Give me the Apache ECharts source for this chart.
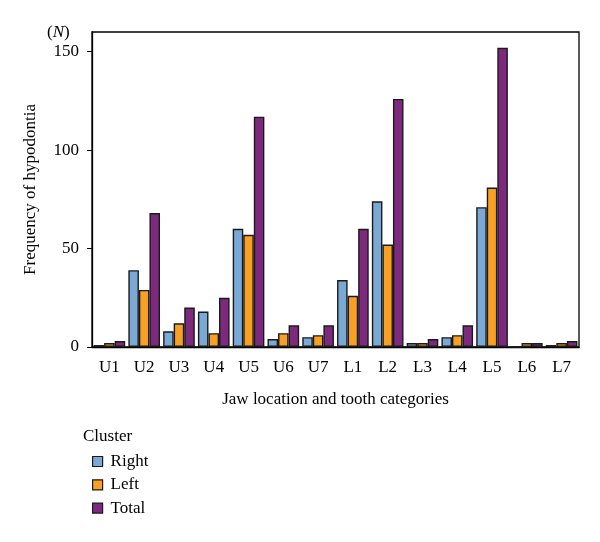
<!DOCTYPE html>
<html><head><meta charset="utf-8">
<script src="https://cdn.jsdelivr.net/npm/echarts@6/dist/echarts.min.js"></script>
<style>html,body{margin:0;padding:0;background:#fff}#c{width:600px;height:542px}</style>
</head><body><div id="c"></div>
<script>
var categories = ['U1','U2','U3','U4','U5','U6','U7','L1','L2','L3','L4','L5','L6','L7'];
var rightVals = [1,39,8,18,60,4,5,34,74,2,5,71,0,1];
var leftVals  = [2,29,12,7,57,7,6,26,52,2,6,81,2,2];
var totalVals = [3,68,20,25,117,11,11,60,126,4,11,152,2,3];
var yTicks = [0,50,100,150];

var F = 'Liberation Serif, DejaVu Serif, serif';
var chart = echarts.init(document.getElementById('c'));
function ser(name, data, color){
  return {name:name, type:'bar', data:data, barGap:'0%', barCategoryGap:'9%',
    itemStyle:{color:color, borderColor:'#1a1a1a', borderWidth:1.4}};
}
chart.setOption({
  animation:false,
  backgroundColor:'#fff',
  grid:{left:92, right:21, top:32, bottom:195, show:true, borderColor:'#000', borderWidth:1.3, backgroundColor:'transparent'},
  xAxis:{type:'category', data:categories,
    name:'Jaw location and tooth categories', nameLocation:'middle', nameGap:44,
    nameTextStyle:{fontFamily:F, fontSize:17, color:'#000'},
    axisLine:{lineStyle:{color:'#000', width:1.3}},
    axisTick:{alignWithLabel:true, length:5, lineStyle:{color:'#000'}},
    axisLabel:{fontFamily:F, fontSize:17, color:'#000', margin:12}},
  yAxis:{type:'value', min:0, max:160, interval:50,
    name:'Frequency of hypodontia', nameLocation:'middle', nameGap:53,
    nameTextStyle:{fontFamily:F, fontSize:17, color:'#000'},
    axisLine:{show:true, lineStyle:{color:'#000', width:1.3}},
    axisTick:{show:true, length:5, lineStyle:{color:'#000'}, customValues: yTicks},
    splitLine:{show:false},
    axisLabel:{fontFamily:F, fontSize:17, color:'#000', margin:13, customValues: yTicks}},
  legend:{orient:'vertical', left:87, top:448, itemWidth:10, itemHeight:10, itemGap:6.3,
    icon:'rect', data:['Right','Left','Total'],
    itemStyle:{borderColor:'#1a1a1a', borderWidth:1.2},
    textStyle:{fontFamily:F, fontSize:17, color:'#000', lineHeight:17, padding:[0,0,0,3]}},
  graphic:[
    {type:'text', left:47, top:24, style:{text:'({i|N})', fontFamily:F, fontSize:17, fill:'#000',
      rich:{i:{fontFamily:F, fontSize:17, fontStyle:'italic', fill:'#000'}}}},
    {type:'text', left:83, top:428, style:{text:'Cluster', fontFamily:F, fontSize:17, fill:'#000'}}
  ],
  series:[ser('Right', rightVals, '#7BA9D6'), ser('Left', leftVals, '#F7A024'), ser('Total', totalVals, '#7D2A7E')]
});
</script></body></html>
